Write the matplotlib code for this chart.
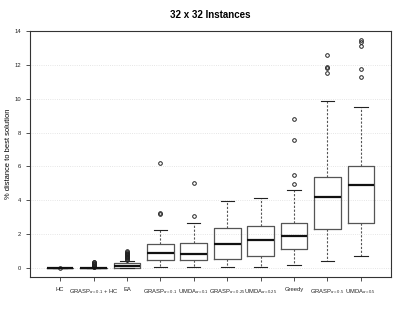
import matplotlib
matplotlib.use("Agg")
import matplotlib.pyplot as plt

plt.rcParams['font.family'] = ['Liberation Sans', 'DejaVu Sans']
plt.rcParams['mathtext.fontset'] = 'custom'
plt.rcParams['mathtext.rm'] = 'Liberation Sans'
plt.rcParams['mathtext.it'] = 'Liberation Sans:italic'

labels = ['HC', r'GRASP$_{\alpha=0.1}$ + HC', 'EA',
          r'GRASP$_{\alpha=0.1}$', r'UMDA$_{\alpha=0.1}$',
          r'GRASP$_{\alpha=0.25}$', r'UMDA$_{\alpha=0.25}$', 'Greedy',
          r'GRASP$_{\alpha=0.5}$', r'UMDA$_{\alpha=0.5}$']

q1 = [0.0, 0.0, 0.02, 0.47, 0.47, 0.55, 0.71, 1.14, 2.29, 2.64]
med = [0.0, 0.01, 0.12, 0.87, 0.81, 1.44, 1.67, 1.89, 4.21, 4.88]
q3 = [0.01, 0.02, 0.28, 1.40, 1.50, 2.34, 2.50, 2.68, 5.38, 6.04]
whislo = [0.0, 0.0, 0.0, 0.04, 0.04, 0.04, 0.05, 0.16, 0.40, 0.69]
whishi = [0.02, 0.03, 0.43, 2.24, 2.68, 3.96, 4.15, 4.61, 9.88, 9.53]
fliers = [
    [0.03],
    [0.05, 0.08, 0.11, 0.14, 0.17, 0.21, 0.25, 0.29, 0.33, 0.37],
    [0.5, 0.55, 0.6, 0.64, 0.68, 0.72, 0.76, 0.8, 0.85, 0.9, 0.95, 1.0],
    [3.2, 3.27, 6.18],
    [3.09, 5.04],
    [],
    [],
    [4.94, 5.49, 7.58, 8.80],
    [11.5, 11.8, 11.89, 12.6],
    [11.3, 11.77, 13.13, 13.35, 13.47],
]

stats = []
for i in range(len(labels)):
    stats.append(dict(med=med[i], q1=q1[i], q3=q3[i], whislo=whislo[i],
                      whishi=whishi[i], fliers=fliers[i]))

fig = plt.figure(figsize=(4.07, 3.15), dpi=100)
ax = fig.add_axes([0.0737, 0.1206, 0.887, 0.781])

ax.bxp(stats, positions=range(1, len(labels) + 1), widths=0.8,
       boxprops=dict(color='#555555', linewidth=0.9),
       medianprops=dict(color='#111111', linewidth=1.6),
       whiskerprops=dict(color='#555555', linewidth=0.8, linestyle=(0, (2, 1.5))),
       capprops=dict(color='#222222', linewidth=0.8),
       flierprops=dict(marker='o', markersize=2.6, markerfacecolor='none',
                       markeredgecolor='#222222', markeredgewidth=0.7),
       capwidths=0.4)

ax.set_xlim(0.1, 10.9)
ax.set_ylim(-0.53, 14)
ax.set_yticks(range(0, 15, 2))
ax.set_xticks(range(1, len(labels) + 1))
ax.set_xticklabels(labels)
ax.yaxis.grid(True, color='#dddddd', linestyle=':', linewidth=0.6)
ax.set_axisbelow(True)

ax.tick_params(axis='both', direction='out', length=3, width=0.6,
               labelsize=4.2, color='#333333', labelcolor='#222222')
ax.tick_params(axis='x', pad=4)
for s in ax.spines.values():
    s.set_linewidth(0.8)
    s.set_color('#333333')

ax.set_ylabel('% distance to best solution', fontsize=5.4)
ax.yaxis.set_label_coords(-0.05, 0.5)
ax.set_title('32 x 32 Instances', fontsize=7, fontweight='bold', pad=9)

fig.savefig('out.png', dpi=100)
